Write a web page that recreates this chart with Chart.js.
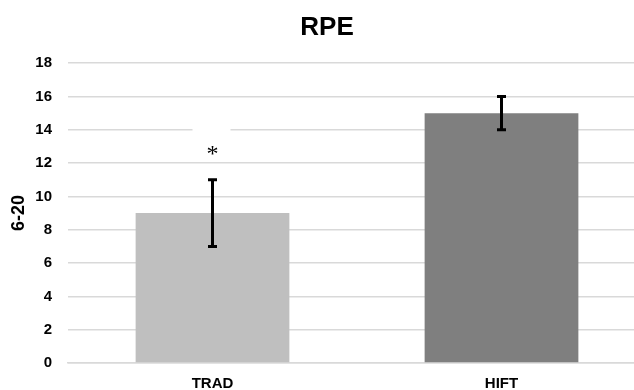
<!DOCTYPE html>
<html>
<head>
<meta charset="utf-8">
<script src="https://cdn.jsdelivr.net/npm/chart.js@4"></script>
<style>
  html, body { margin: 0; padding: 0; background: #fff; overflow: hidden; }
  /* the plot runs past the right edge of the picture, like the source */
  #wrap { width: 651px; height: 390px; }
</style>
</head>
<body>
<div id="wrap"><canvas id="rpeChart"></canvas></div>
<script>
const categories = ['TRAD', 'HIFT'];
const rpeMeans = [9, 15];
const rpeErrors = [2, 1];
const barColors = ['#bfbfbf', '#7f7f7f'];
const yTicks = [0, 2, 4, 6, 8, 10, 12, 14, 16, 18];
// asterisk marks TRAD as significantly different
const markIndex = 0;
const markValue = 12.8;

const errorBars = {
    id: 'errorBars',
    afterDatasetsDraw(chart) {
        const ctx = chart.ctx;
        const y = chart.scales.y;
        const meta = chart.getDatasetMeta(0);
        ctx.save();
        ctx.strokeStyle = '#000';
        ctx.lineWidth = 3;
        meta.data.forEach((bar, i) => {
            const top = y.getPixelForValue(rpeMeans[i] + rpeErrors[i]);
            const bottom = y.getPixelForValue(rpeMeans[i] - rpeErrors[i]);
            const x = bar.x;
            ctx.beginPath();
            ctx.moveTo(x, top);
            ctx.lineTo(x, bottom);
            ctx.moveTo(x - 4.5, top);
            ctx.lineTo(x + 4.5, top);
            ctx.moveTo(x - 4.5, bottom);
            ctx.lineTo(x + 4.5, bottom);
            ctx.stroke();
        });
        // white box behind the asterisk, hides a bit of the 14 gridline
        const bar = meta.data[markIndex];
        const g = y.getPixelForValue(14);
        ctx.fillStyle = '#fff';
        ctx.fillRect(bar.x - 20, g - 2, 38, 4);
        ctx.fillStyle = '#000';
        ctx.font = '24px "Liberation Serif", serif';
        ctx.textAlign = 'center';
        ctx.textBaseline = 'middle';
        ctx.fillText('*', bar.x, y.getPixelForValue(markValue) + 5);
        ctx.restore();
    }
};

new Chart(document.getElementById('rpeChart').getContext('2d'), {
    type: 'bar',
    data: {
        labels: categories,
        datasets: [{
            data: rpeMeans,
            backgroundColor: barColors,
            categoryPercentage: 1,
            barPercentage: 0.532
        }]
    },
    options: {
        responsive: true,
        maintainAspectRatio: false,
        animation: false,
        layout: { padding: { left: 8, right: 5, top: 12, bottom: 0 } },
        plugins: {
            legend: { display: false },
            tooltip: { enabled: false },
            title: {
                display: true,
                text: 'RPE',
                color: '#000',
                font: { family: 'Liberation Sans, Arial', size: 26, weight: 'bold' },
                padding: { top: 0, bottom: 20 }
            }
        },
        scales: {
            x: {
                afterFit(axis) { axis.height = 27; },
                grid: { display: false, drawTicks: false },
                border: { color: '#d9d9d9', width: 1.5 },
                ticks: {
                    color: '#000',
                    padding: 12,
                    font: { family: 'Liberation Sans, Arial', size: 15, weight: 'bold' }
                }
            },
            y: {
                min: 0,
                max: 18,
                afterFit(axis) { axis.width = 60; },
                afterBuildTicks(axis) { axis.ticks = yTicks.map(v => ({ value: v })); },
                grid: { color: '#d9d9d9', lineWidth: 1.5, drawTicks: false },
                border: { display: false },
                ticks: {
                    color: '#000',
                    padding: 16,
                    font: { family: 'Liberation Sans, Arial', size: 15, weight: 'bold' }
                },
                title: {
                    display: true,
                    text: '6-20',
                    color: '#000',
                    padding: { top: 0, bottom: 5 },
                    font: { family: 'Liberation Sans, Arial', size: 18, weight: 'bold' }
                }
            }
        }
    },
    plugins: [errorBars]
});
</script>
</body>
</html>
